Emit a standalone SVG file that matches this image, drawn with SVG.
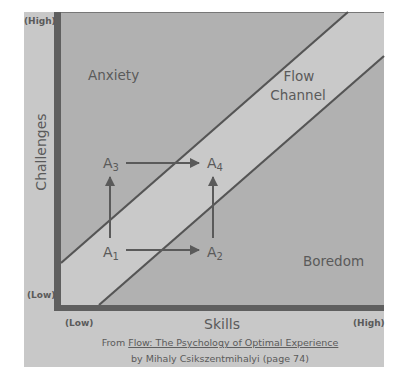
<svg xmlns="http://www.w3.org/2000/svg" width="407" height="375" viewBox="0 0 407 375">
<style>
text{font-family:"DejaVu Sans","Liberation Sans",sans-serif;fill:#5a5a5a}
.lbl{font-size:13.5px}
.ax{font-size:9px;font-weight:bold}
.a{font-size:14px}
.sub{font-size:10px}
.cap{font-size:9.5px}
.conn{stroke:#5a5a5a;stroke-width:2;fill:none;marker-end:url(#ah)}
.diag{stroke:#555;stroke-width:2.2;fill:none}
</style>
<defs>
<marker id="ah" viewBox="0 0 10 10" refX="9" refY="5" markerWidth="5" markerHeight="5" orient="auto" markerUnits="strokeWidth">
<path d="M0,0 L10,5 L0,10 z" fill="#5a5a5a"/>
</marker>
</defs>
<rect width="407" height="375" fill="#ffffff"/>
<g id="panel">
<rect x="24" y="12" width="360" height="355" fill="#c8c8c8"/>
</g>
<g id="plot">
<rect x="61" y="12" width="323" height="293" fill="#c9c9c9"/>
<polygon points="61,12 348,12 61,263" fill="#b1b1b1"/>
<polygon points="99,305 384,56 384,305" fill="#b1b1b1"/>
<line x1="61" y1="12.5" x2="384" y2="12.5" stroke="#777" stroke-width="1"/>
<line class="diag" x1="61" y1="263" x2="348" y2="12"/>
<line class="diag" x1="99" y1="305" x2="384" y2="56"/>
<rect x="54" y="12" width="7" height="299" fill="#5f5f5f"/>
<rect x="54" y="305" width="330" height="6" fill="#5f5f5f"/>
</g>
<g id="region-labels">
<text class="lbl" x="88" y="80">Anxiety</text>
<text class="lbl" x="299" y="81" text-anchor="middle">Flow</text>
<text class="lbl" x="298" y="100" text-anchor="middle">Channel</text>
<text class="lbl" x="303" y="266">Boredom</text>
</g>
<g id="A1"><text class="a" x="103" y="257">A<tspan class="sub" dy="3">1</tspan></text></g>
<g id="A2"><text class="a" x="207" y="257">A<tspan class="sub" dy="3">2</tspan></text></g>
<g id="A3"><text class="a" x="103" y="168">A<tspan class="sub" dy="3">3</tspan></text></g>
<g id="A4"><text class="a" x="207" y="168">A<tspan class="sub" dy="3">4</tspan></text></g>
<g id="connectors">
<line class="conn" x1="126" y1="163" x2="199" y2="163"/>
<line class="conn" x1="126" y1="250" x2="199" y2="250"/>
<line class="conn" x1="110" y1="238" x2="110" y2="177"/>
<line class="conn" x1="213" y1="238" x2="213" y2="177"/>
</g>
<g id="axes-labels">
<text class="ax" x="24" y="24">(High)</text>
<text class="ax" x="27" y="298">(Low)</text>
<text class="ax" x="65" y="326">(Low)</text>
<text class="ax" x="353" y="326">(High)</text>
<text x="222" y="329" text-anchor="middle" style="font-size:14px">Skills</text>
<text x="0" y="0" text-anchor="middle" transform="translate(46,152) rotate(-90)" style="font-size:14px">Challenges</text>
</g>
<g id="caption">
<text class="cap" x="220" y="346" text-anchor="middle">From <tspan text-decoration="underline">Flow: The Psychology of Optimal Experience</tspan></text>
<text class="cap" x="220" y="362" text-anchor="middle">by Mihaly Csikszentmihalyi (page 74)</text>
</g>
</svg>
